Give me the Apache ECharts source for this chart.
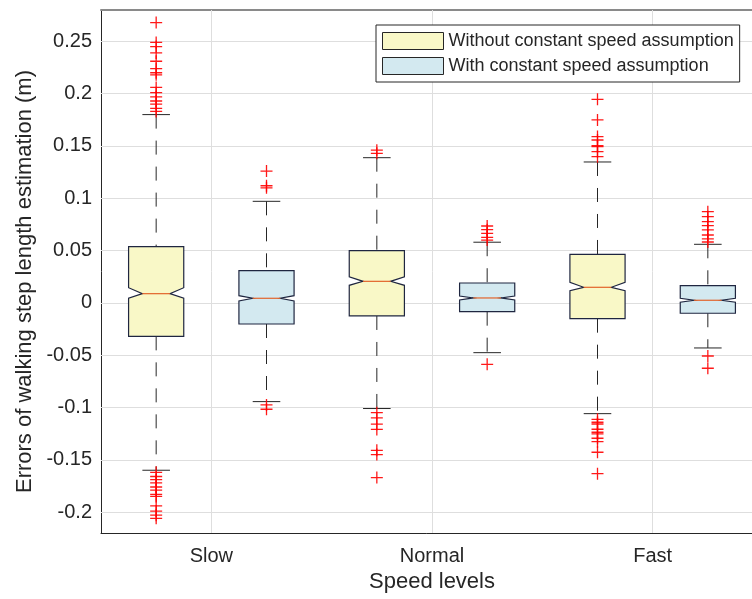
<!DOCTYPE html>
<html><head><meta charset="utf-8">
<script src="https://cdn.jsdelivr.net/npm/echarts@6/dist/echarts.min.js"></script>
<style>html,body{margin:0;padding:0;background:#fff}#c{width:752px;height:599px}</style>
</head><body><div id="c"></div>
<script>
// ---------- data ----------
const categories = ['Slow', 'Normal', 'Fast'];
const seriesNames = ['Without constant speed assumption', 'With constant speed assumption'];
const yTicks = [-0.2, -0.15, -0.1, -0.05, 0, 0.05, 0.1, 0.15, 0.2, 0.25];
const xTitle = 'Speed levels';
const yTitle = 'Errors of walking step length estimation (m)';

// Without constant speed assumption
const withoutQ1 = [-0.032, -0.0125, -0.0151];
const withoutMedian = [0.0088, 0.0206, 0.0149];
const withoutQ3 = [0.0537, 0.0499, 0.0464];
const withoutNotchLow = [0.0044, 0.0168, 0.0117];
const withoutNotchHigh = [0.0145, 0.025, 0.0197];
const withoutWhiskerLow = [-0.160, -0.101, -0.1059];
const withoutWhiskerHigh = [0.180, 0.1388, 0.1347];
const withoutOutliers = [
  [0.268, 0.249, 0.245, 0.239, 0.231, 0.224, 0.220, 0.218, 0.206, 0.201, 0.197, 0.193, 0.190, 0.186, 0.183,
   -0.162, -0.166, -0.169, -0.172, -0.176, -0.179, -0.183, -0.185, -0.194, -0.199, -0.203, -0.206],
  [0.146, 0.143, -0.105, -0.110, -0.116, -0.121, -0.141, -0.145, -0.167],
  [0.1946, 0.1749, 0.159, 0.1557, 0.1503, 0.1493, 0.1446, 0.1398,
   -0.1113, -0.1141, -0.1158, -0.1208, -0.1237, -0.1253, -0.1294, -0.1327, -0.1428, -0.1633]
];

// With constant speed assumption
const withQ1 = [-0.0202, -0.0084, -0.0099];
const withMedian = [0.0044, 0.0047, 0.0025];
const withQ3 = [0.0308, 0.019, 0.0165];
const withNotchLow = [0.0018, 0.0028, 0.0006];
const withNotchHigh = [0.0069, 0.0066, 0.0044];
const withWhiskerLow = [-0.0944, -0.0476, -0.0431];
const withWhiskerHigh = [0.0971, 0.058, 0.056];
const withOutliers = [
  [0.126, 0.112, 0.110, -0.0976, -0.1017],
  [0.0735, 0.070, 0.0665, 0.0627, 0.060, -0.0587],
  [0.0872, 0.0824, 0.0776, 0.0738, 0.0697, 0.0649, 0.0611, 0.0582, -0.0508, -0.0625]
];

// ---------- style ----------
const FONT = '"Liberation Sans", Arial, Helvetica, sans-serif';
const TXT = '#262626';
const GRID = '#dedede';
const YELLOW = '#f9f8c7';
const BLUE = '#d3e9f0';
const EDGE = '#1f2640';
const MEDIAN = '#e2632a';
const OFFSETS = [-0.25, 0.25];
const BOXW = 0.25;

function boxData(q1, med, q3, nLo, nHi, wLo, wHi) {
  return categories.map((c, i) => [i, q1[i], med[i], q3[i], nLo[i], nHi[i], wLo[i], wHi[i]]);
}
function outlierData(outs, offset) {
  const d = [];
  outs.forEach((arr, i) => arr.forEach(v => d.push([i + 1 + offset, v])));
  return d;
}
function makeRender(offset, fill) {
  return function (params, api) {
    const x = api.value(0) + 1 + offset;
    const Y = k => api.coord([x, api.value(k)])[1];
    const cx = api.coord([x, 0])[0];
    const w = api.size([BOXW, 0])[0];
    const q1 = Y(1), med = Y(2), q3 = Y(3), nLo = Y(4), nHi = Y(5), wLo = Y(6), wHi = Y(7);
    const xL = cx - w / 2, xR = cx + w / 2, xNL = cx - w / 4, xNR = cx + w / 4;
    const dash = { stroke: TXT, lineWidth: 1, lineDash: [14, 12] };
    const solid = { stroke: TXT, lineWidth: 1 };
    return {
      type: 'group',
      children: [
        { type: 'line', shape: { x1: cx, y1: wHi, x2: cx, y2: q3 }, style: dash },
        { type: 'line', shape: { x1: cx, y1: q1, x2: cx, y2: wLo }, style: dash },
        { type: 'line', shape: { x1: cx - w / 4, y1: wHi, x2: cx + w / 4, y2: wHi }, style: solid },
        { type: 'line', shape: { x1: cx - w / 4, y1: wLo, x2: cx + w / 4, y2: wLo }, style: solid },
        { type: 'polygon', shape: { points: [
            [xL, q3], [xR, q3], [xR, nHi], [xNR, med], [xR, nLo], [xR, q1],
            [xL, q1], [xL, nLo], [xNL, med], [xL, nHi]] },
          style: { fill: fill, stroke: EDGE, lineWidth: 1.2 } },
        { type: 'line', shape: { x1: xNL, y1: med, x2: xNR, y2: med }, style: { stroke: MEDIAN, lineWidth: 1.2 } }
      ]
    };
  };
}

const PLUS = 'path://M5.35,0H6.65V5.35H12V6.65H6.65V12H5.35V6.65H0V5.35H5.35Z';

const gridLines = [];
yTicks.forEach(v => gridLines.push({ yAxis: v }));
categories.forEach((c, i) => gridLines.push({ xAxis: i + 1 }));

const chart = echarts.init(document.getElementById('c'), null, { renderer: 'canvas' });
chart.setOption({
  animation: false,
  backgroundColor: '#fff',
  textStyle: { fontFamily: FONT },
  grid: { left: 101, top: 10, right: -11, bottom: 66, containLabel: false, outerBoundsMode: 'none' },
  legend: {
    orient: 'vertical', left: 376, top: 25, padding: [7, 6, 7, 6], itemGap: 7,
    itemWidth: 61, itemHeight: 17, backgroundColor: '#fff', borderColor: TXT, borderWidth: 1, borderRadius: 0,
    selectedMode: false,
    textStyle: { fontFamily: FONT, fontSize: 18, color: TXT },
    data: [
      { name: seriesNames[0], icon: 'rect', itemStyle: { color: YELLOW, borderColor: TXT, borderWidth: 1 } },
      { name: seriesNames[1], icon: 'rect', itemStyle: { color: BLUE, borderColor: TXT, borderWidth: 1 } }
    ]
  },
  xAxis: [{
    type: 'value', min: 0.5, max: 3.5, position: 'bottom',
    axisLine: { show: true, onZero: false, lineStyle: { color: TXT, width: 1 } },
    axisTick: { show: true, inside: true, length: 7, customValues: [1, 2, 3], lineStyle: { color: TXT } },
    axisLabel: { show: true, customValues: [1, 2, 3], formatter: v => categories[Math.round(v) - 1],
      fontFamily: FONT, fontSize: 20, color: TXT, margin: 13 },
    splitLine: { show: false },
    name: xTitle, nameLocation: 'middle', nameGap: 37,
    nameTextStyle: { fontFamily: FONT, fontSize: 22, color: TXT }
  }, {
    type: 'value', min: 0.5, max: 3.5, position: 'top',
    axisLine: { show: true, onZero: false, lineStyle: { color: '#8a8a8a', width: 2 } },
    axisTick: { show: true, inside: true, length: 6, customValues: [1, 2, 3], lineStyle: { color: '#8a8a8a' } },
    axisLabel: { show: false }, splitLine: { show: false }
  }],
  yAxis: {
    type: 'value', min: -0.22, max: 0.28,
    axisLine: { show: true, onZero: false, lineStyle: { color: TXT, width: 1 } },
    axisTick: { show: true, inside: true, length: 6, customValues: yTicks, lineStyle: { color: TXT } },
    axisLabel: { show: true, customValues: yTicks, formatter: v => String(parseFloat(Number(v).toFixed(2))),
      fontFamily: FONT, fontSize: 20, color: TXT, margin: 9 },
    splitLine: { show: false },
    name: yTitle, nameLocation: 'middle', nameGap: 61,
    nameTextStyle: { fontFamily: FONT, fontSize: 22, color: TXT, padding: [0, 20, 0, 0] }
  },
  series: [
    {
      type: 'scatter', name: 'grid', data: [], silent: true, z: 1,
      markLine: { silent: true, symbol: ['none', 'none'], z: 1, animation: false,
        label: { show: false }, lineStyle: { color: GRID, width: 1, type: 'solid' },
        emphasis: { disabled: true }, data: gridLines }
    },
    {
      type: 'custom', name: seriesNames[0], z: 3,
      itemStyle: { color: YELLOW, borderColor: TXT },
      renderItem: makeRender(OFFSETS[0], YELLOW),
      data: boxData(withoutQ1, withoutMedian, withoutQ3, withoutNotchLow, withoutNotchHigh, withoutWhiskerLow, withoutWhiskerHigh)
    },
    {
      type: 'custom', name: seriesNames[1], z: 3,
      itemStyle: { color: BLUE, borderColor: TXT },
      renderItem: makeRender(OFFSETS[1], BLUE),
      data: boxData(withQ1, withMedian, withQ3, withNotchLow, withNotchHigh, withWhiskerLow, withWhiskerHigh)
    },
    {
      type: 'scatter', name: 'Outliers A', z: 4, symbol: PLUS, symbolSize: 12,
      itemStyle: { color: '#ff0000', opacity: 0.9 }, silent: true,
      data: outlierData(withoutOutliers, OFFSETS[0])
    },
    {
      type: 'scatter', name: 'Outliers B', z: 4, symbol: PLUS, symbolSize: 12,
      itemStyle: { color: '#ff0000', opacity: 0.9 }, silent: true,
      data: outlierData(withOutliers, OFFSETS[1])
    }
  ]
});
</script></body></html>
